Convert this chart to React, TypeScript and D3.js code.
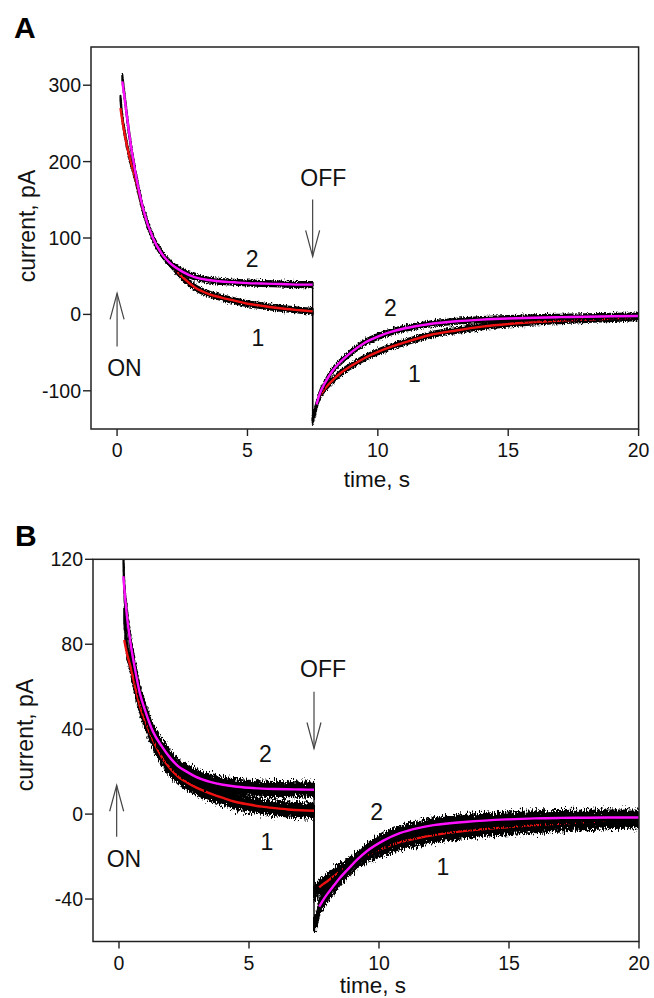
import React from "react";
import * as d3 from "d3";

// ---------- Panel A data (time in s, current in pA) ----------
const aTimeOn = [0.13, 0.2, 0.3, 0.45, 0.7, 1.0, 1.35, 1.7, 2.0, 2.5, 3.0, 3.5, 4.0, 4.5, 5.0, 5.5, 6.0, 6.5, 7.0, 7.5];
const aFit1On = [270, 254, 234, 210, 178, 136, 102, 80, 68, 49, 35, 27, 22, 18, 14, 11.5, 9, 7, 5.5, 4];
const aFit2On = [null, 305, 280, 240, 186, 138, 102, 80, 68, 56, 48.5, 45, 43, 42, 41, 40.5, 40, 39.5, 39, 39];
const aData1On = [283, 258, 236, 210, 178, 136, 102, 80, 68, 49, 35, 27, 22, 18, 14, 11.5, 9, 7, 5.5, 4];
const aData2On = [null, 311, 282, 240, 186, 138, 102, 80, 68, 56, 48.5, 45, 43, 42, 41, 40.5, 40, 39.5, 39, 39];

const aTimeOff = [7.5, 7.6, 7.65, 7.75, 8.0, 8.3, 8.6, 9.0, 9.5, 10, 10.5, 11, 12, 13, 14, 15, 16, 17, 18, 19, 20];
const aFit1Off = [null, null, null, -108, -96, -85, -76, -67, -57, -49, -42.5, -37, -27, -21, -16, -12.5, -10, -8.2, -6.7, -5.5, -4.4];
const aFit2Off = [null, null, -118, -106, -88, -72, -61, -49, -37, -29, -23, -18.5, -12.5, -9, -6.8, -5.3, -4.3, -3.6, -3.0, -2.5, -2.1];
const aData1Off = [-140, -127, -120, -109, -96, -85, -76, -67, -57, -49, -42.5, -37, -27, -21, -16, -12.5, -10, -8.2, -6.7, -5.5, -4.4];
const aData2Off = [-136, -124, -118, -106, -88, -72, -61, -49, -37, -29, -23, -18.5, -12.5, -9, -6.8, -5.3, -4.3, -3.6, -3.0, -2.5, -2.1];

// ---------- Panel B data ----------
const bTimeOn = [0.17, 0.2, 0.3, 0.45, 0.62, 0.8, 1.0, 1.3, 1.64, 2.0, 2.28, 2.6, 2.92, 3.5, 4.0, 4.46, 5.0, 5.5, 6.0, 6.5, 7.0, 7.5];
const bFit1On = [null, 82, 76, 69, 60, 51, 44, 35, 27, 21, 17.6, 15, 12.8, 9.8, 7.6, 5.8, 4.5, 3.5, 2.8, 2.2, 1.8, 1.6];
const bFit2On = [112, 107, 94, 80, 68, 57, 49, 39, 32, 26, 22.5, 20, 17.8, 15.2, 13.8, 13, 12.4, 12, 11.8, 11.7, 11.6, 11.5];
const bData1On = [null, 94, 79, 70, 60, 51, 44, 35, 27, 21, 17.6, 15, 12.8, 9.8, 7.6, 5.8, 4.5, 3.5, 2.8, 2.2, 1.8, 1.6];
const bData2On = [121, 108, 94, 80, 68, 57, 49, 39, 32, 26, 22.5, 20, 17.8, 15.2, 13.8, 13, 12.4, 12, 11.8, 11.7, 11.6, 11.5];

const bTimeOff = [7.5, 7.6, 7.7, 7.85, 8.0, 8.24, 8.5, 8.88, 9.2, 9.53, 10.17, 10.8, 11.5, 12.1, 13.4, 14.9, 16, 17, 18, 19, 20];
const bFit1Off = [null, null, -34.5, -33, -31.7, -29.5, -27, -23.8, -21.4, -19.3, -16, -13.2, -11.3, -9.9, -7.8, -6.2, -5.2, -4.4, -3.8, -3.3, -2.9];
const bFit2Off = [null, null, -43.6, -40.5, -37.8, -34, -30, -25, -21, -17.5, -12.5, -9, -6.6, -5.2, -3.6, -2.5, -2.0, -1.8, -1.7, -1.6, -1.6];
const bData1Off = [-37, -36, -34.5, -33, -31.7, -29.5, -27, -23.8, -21.4, -19.3, -16, -13.2, -11.3, -9.9, -7.8, -6.2, -5.2, -4.4, -3.8, -3.3, -2.9];
const bData2Off = [-52, -50, -44, -40.5, -37.8, -34, -30, -25, -21, -17.5, -12.5, -9, -6.6, -5.2, -3.6, -2.5, -2.0, -1.8, -1.7, -1.6, -1.6];

// ---------- Axes ----------
const xTicks = [0, 5, 10, 15, 20];
const aYTicks = [-100, 0, 100, 200, 300];
const bYTicks = [-40, 0, 40, 80, 120];

// ---------- Annotations (data coords) ----------
const aLabels = [
  { t: 7.91, v: 167.5, text: "OFF" },
  { t: 0.28, v: -81, text: "ON" },
  { t: 5.18, v: 62, text: "2" },
  { t: 5.4, v: -41.5, text: "1" },
  { t: 10.48, v: -2.2, text: "2" },
  { t: 11.4, v: -88, text: "1" },
];
const aArrows = [
  { t: 7.5, from: 150.5, to: 75.9 },
  { t: 0, from: -41.9, to: 27.5 },
];
const bLabels = [
  { t: 7.85, v: 64.6, text: "OFF" },
  { t: 0.19, v: -24.8, text: "ON" },
  { t: 5.63, v: 24.6, text: "2" },
  { t: 5.69, v: -16.9, text: "1" },
  { t: 9.91, v: -2.8, text: "2" },
  { t: 12.46, v: -28.7, text: "1" },
];
const bArrows = [
  { t: 7.5, from: 57.6, to: 30.9 },
  { t: -0.09, from: -10.7, to: 13.6 },
];

const FONT = "'Liberation Sans', Arial, Helvetica, sans-serif";
const RED = "#ee1111";
const MAGENTA = "#ff10ff";

type Pt = [number, number | null];
const zip = (t: number[], v: (number | null)[]): Pt[] => t.map((d, i) => [d, v[i]]);

function Panel(props: any) {
  const { id, letter, left, right, top, bottom, yDomain, yTicks, amp, filter,
    timeOn, fit1On, fit2On, data1On, data2On, timeOff, fit1Off, fit2Off, data1Off, data2Off,
    labels, arrows, letterPos, yTitlePos, xTitlePos } = props;
  const x = d3.scaleLinear().domain([-1, 20]).range([left, right]);
  const y = d3.scaleLinear().domain(yDomain).range([bottom, top]);
  const line = d3.line<Pt>().defined(d => d[1] != null).x(d => x(d[0])).y(d => y(d[1] as number)).curve(d3.curveMonotoneX);
  const band = d3.area<Pt>().defined(d => d[1] != null).x(d => x(d[0]))
    .y0(d => y((d[1] as number) - amp)).y1(d => y((d[1] as number) + amp)).curve(d3.curveMonotoneX);

  const d1on = zip(timeOn, data1On), d2on = zip(timeOn, data2On);
  const d1off = zip(timeOff, data1Off), d2off = zip(timeOff, data2Off);
  const tStep = timeOff[0];
  const last = (a: (number | null)[]) => a[a.length - 1] as number;

  const dataBand = (pts: Pt[]) => (
    <g filter={`url(#${filter})`}>
      <path d={band(pts) || ""} fill="#000" stroke="#000" strokeWidth={2} strokeLinejoin="round" />
    </g>
  );

  return (
    <g>
      <defs>
        <clipPath id={`clip-${id}`}>
          <rect x={left} y={top} width={right - left} height={bottom - top} />
        </clipPath>
      </defs>
      <g clipPath={`url(#clip-${id})`}>
        <line x1={x(tStep)} x2={x(tStep)} y1={y(last(data2On))} y2={y(data2Off[0] as number)} stroke="#000" strokeWidth={1.4} />
        <line x1={x(tStep)} x2={x(tStep)} y1={y(last(data1On))} y2={y(data1Off[0] as number)} stroke="#000" strokeWidth={1.4} />
        {dataBand(d1on)}
        {dataBand(d1off)}
        <path d={line(zip(timeOn, fit1On)) || ""} fill="none" stroke={RED} strokeWidth={2.4} />
        <path d={line(zip(timeOff, fit1Off)) || ""} fill="none" stroke={RED} strokeWidth={2.4} />
        {dataBand(d2on)}
        {dataBand(d2off)}
        <path d={line(zip(timeOn, fit2On)) || ""} fill="none" stroke={MAGENTA} strokeWidth={2.4} />
        <path d={line(zip(timeOff, fit2Off)) || ""} fill="none" stroke={MAGENTA} strokeWidth={2.4} />
      </g>
      <rect x={left} y={top} width={right - left} height={bottom - top} fill="none" stroke="#222" strokeWidth={1.5} />
      {yTicks.map((v: number) => (
        <g key={`y${v}`}>
          <line x1={left - 8} x2={left} y1={y(v)} y2={y(v)} stroke="#222" strokeWidth={1.4} />
          <text x={left - 10} y={y(v)} dy="0.36em" textAnchor="end" fontSize={19.5} fontFamily={FONT} fill="#111">{v}</text>
        </g>
      ))}
      {xTicks.map((t: number) => (
        <g key={`x${t}`}>
          <line x1={x(t)} x2={x(t)} y1={bottom} y2={bottom + 7} stroke="#222" strokeWidth={1.4} />
          <text x={x(t)} y={bottom + 28} textAnchor="middle" fontSize={19.5} fontFamily={FONT} fill="#111">{t}</text>
        </g>
      ))}
      <text x={xTitlePos[0]} y={xTitlePos[1]} textAnchor="middle" fontSize={22.5} fontFamily={FONT} fill="#111">time, s</text>
      <text transform={`translate(${yTitlePos[0]},${yTitlePos[1]}) rotate(-90)`} textAnchor="middle" dy="0.35em" fontSize={23} fontFamily={FONT} fill="#111">current, pA</text>
      <text x={letterPos[0]} y={letterPos[1]} fontSize={30} fontWeight="bold" fontFamily={FONT} fill="#000">{letter}</text>
      {labels.map((l: any, i: number) => (
        <text key={`l${i}`} x={x(l.t)} y={y(l.v)} textAnchor="middle" fontSize={23} fontFamily={FONT} fill="#111">{l.text}</text>
      ))}
      {arrows.map((a: any, i: number) => {
        const ax = x(a.t), y0 = y(a.from), y1 = y(a.to);
        const dir = y1 > y0 ? 1 : -1;
        return (
          <g key={`a${i}`} stroke="#444" strokeWidth={1.2} fill="none">
            <line x1={ax} x2={ax} y1={y0} y2={y1} />
            <polyline points={`${ax - 7},${y1 - dir * 26} ${ax},${y1} ${ax + 7},${y1 - dir * 26}`} />
          </g>
        );
      })}
    </g>
  );
}

export default function App() {
  return (
    <svg width={654} height={998} style={{ position: "absolute", left: 0, top: 0, background: "#fff" }}>
      <defs>
        <filter id="noiseA" x="-5%" y="-10%" width="110%" height="120%">
          <feTurbulence type="fractalNoise" baseFrequency="1.1 0.5" numOctaves={2} seed={3} result="n" />
          <feColorMatrix in="n" type="matrix" values="0 0 0 0 0.5  0 1 0 0 0  0 0 1 0 0  0 0 0 0 1" result="m" />
          <feDisplacementMap in="SourceGraphic" in2="m" scale={6} xChannelSelector="R" yChannelSelector="G" />
        </filter>
        <filter id="noiseB" x="-5%" y="-10%" width="110%" height="120%">
          <feTurbulence type="fractalNoise" baseFrequency="1.1 0.3" numOctaves={2} seed={7} result="n" />
          <feColorMatrix in="n" type="matrix" values="0 0 0 0 0.5  0 1 0 0 0  0 0 1 0 0  0 0 0 0 1" result="m" />
          <feDisplacementMap in="SourceGraphic" in2="m" scale={14} xChannelSelector="R" yChannelSelector="G" />
        </filter>
      </defs>
      <Panel id="A" letter="A" left={91} right={638.6} top={47} bottom={429} yDomain={[-150, 350]} yTicks={aYTicks}
        amp={3.3} filter="noiseA"
        timeOn={aTimeOn} fit1On={aFit1On} fit2On={aFit2On} data1On={aData1On} data2On={aData2On}
        timeOff={aTimeOff} fit1Off={aFit1Off} fit2Off={aFit2Off} data1Off={aData1Off} data2Off={aData2Off}
        labels={aLabels} arrows={aArrows} letterPos={[14, 38]} yTitlePos={[27, 226]} xTitlePos={[377, 487]} />
      <Panel id="B" letter="B" left={93} right={639} top={559.3} bottom={941.5} yDomain={[-60, 120]} yTicks={bYTicks}
        amp={3.3} filter="noiseB"
        timeOn={bTimeOn} fit1On={bFit1On} fit2On={bFit2On} data1On={bData1On} data2On={bData2On}
        timeOff={bTimeOff} fit1Off={bFit1Off} fit2Off={bFit2Off} data1Off={bData1Off} data2Off={bData2Off}
        labels={bLabels} arrows={bArrows} letterPos={[15, 546]} yTitlePos={[25, 735]} xTitlePos={[373, 993]} />
    </svg>
  );
}
